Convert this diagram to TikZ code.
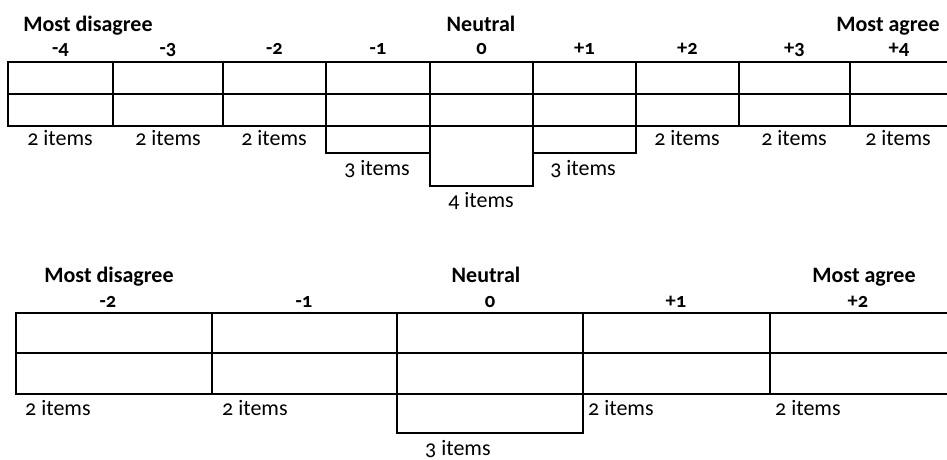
\documentclass[tikz,border=0pt]{standalone}
\usepackage{fontspec}
\setmainfont{Carlito}[Numbers=OldStyle]
\tikzstyle{cell}=[draw, line width=1.3pt]
\tikzstyle{heading}=[font=\fontsize{22}{26}\selectfont\bfseries, anchor=base, inner sep=0]
\tikzstyle{score}=[font=\fontsize{20.5}{24}\selectfont\bfseries, anchor=base, inner sep=0]
\tikzstyle{count}=[font=\fontsize{22}{26}\selectfont, anchor=base, inner sep=0]
\tikzstyle{lcount}=[count, anchor=base west]

\begin{document}
\begin{tikzpicture}[x=1pt, y=-1pt]
    \useasboundingbox (0,0) rectangle (947,459);
    % nine-column sheet
    \node[heading] (T1) at (88,31) {Most disagree};
    \node[heading] (T2) at (481,31) {Neutral};
    \node[heading] (T3) at (888,31) {Most agree};
    \foreach \xa/\xb/\lab [count=\i] in {8/113/-4, 113/223/-3, 223/326/-2, 326/430/-1,
                                         430/533/0, 533/636/+1, 636/739/+2, 739/850/+3, 850/948/+4} {
        \draw[cell] (\xa,62) rectangle (\xb,94);
        \draw[cell] (\xa,94) rectangle (\xb,126);
        \node[score] (S\i) at ({(\xa+\xb)/2},54) {\lab};
    }
    \draw[cell] (326,126) rectangle (430,153);
    \draw[cell] (533,126) rectangle (636,153);
    \draw[cell] (430,126) rectangle (533,186);
    \foreach \x [count=\i] in {60, 168, 274, 687, 794, 898}
        \node[count] (C\i) at (\x,145) {2 items};
    \node[count] (C7) at (377,175) {3 items};
    \node[count] (C8) at (583,175) {3 items};
    \node[count] (C9) at (481,207) {4 items};

    % five-column sheet
    \node[heading] (B1) at (109,282) {Most disagree};
    \node[heading] (B2) at (486,282) {Neutral};
    \node[heading] (B3) at (864,282) {Most agree};
    \foreach \xa/\xb/\lab [count=\i] in {16/212/-2, 212/397/-1, 397/583/0, 583/770/+1, 770/948/+2} {
        \draw[cell] (\xa,313) rectangle (\xb,353);
        \draw[cell] (\xa,353) rectangle (\xb,394);
    }
    \foreach \x/\lab [count=\i] in {108/-2, 304/-1, 490/0, 676/+1, 858/+2}
        \node[score] (BS\i) at (\x,307) {\lab};
    \draw[cell] (397,394) rectangle (583,433);
    \foreach \x [count=\i] in {25, 222, 588, 775}
        \node[lcount] (BC\i) at (\x,415) {2 items};
    \node[lcount] (BC5) at (425,455) {3 items};
\end{tikzpicture}
\end{document}
